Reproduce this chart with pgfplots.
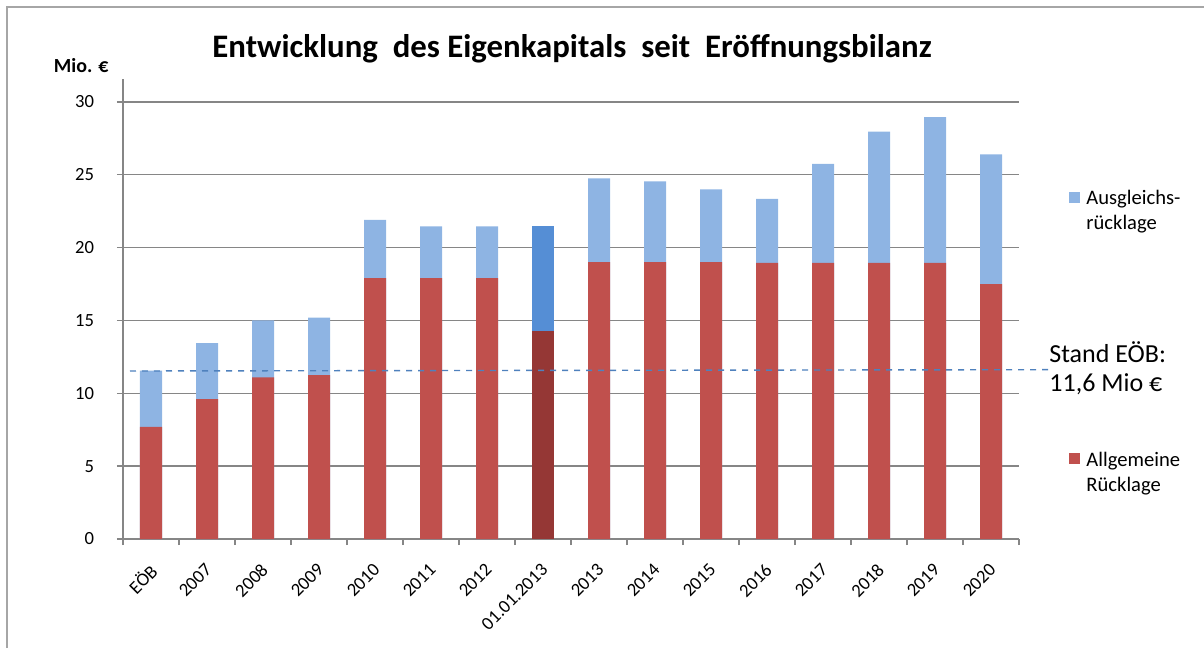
\documentclass[border=0pt]{standalone}
\usepackage{fontspec}
\setmainfont{Carlito}
\usepackage{pgfplots}
\pgfplotsset{compat=1.18}
\definecolor{ausgl}{HTML}{8EB4E3}
\definecolor{allg}{HTML}{C0504D}
\definecolor{ausglDark}{HTML}{558ED5}
\definecolor{allgDark}{HTML}{953735}
\definecolor{eobline}{HTML}{4F81BD}
\definecolor{axgray}{HTML}{868686}
\begin{document}
\begin{tikzpicture}
\useasboundingbox (0pt,0pt) rectangle (602pt,324pt);
\draw[color=black!35, line width=0.7pt] (3.5pt,0pt) -- (3.5pt,320.5pt) -- (602pt,320.5pt);
\begin{axis}[at={(61.5pt,54.5pt)}, anchor=south west, scale only axis,
 width=448pt, height=230pt,
 xmin=-0.5, xmax=15.5, ymin=0, ymax=31.57,
 ybar, bar width=11pt,
 xtick={0,...,15},
 xticklabels={EÖB,2007,2008,2009,2010,2011,2012,01.01.2013,2013,2014,2015,2016,2017,2018,2019,2020},
 minor xtick={-0.5,0.5,...,15.5},
 ytick={0,5,...,30},
 axis x line*=bottom, axis y line*=left,
 axis line style={draw=axgray, line width=0.7pt, -},
 ymajorgrids, grid style={draw=axgray, line width=0.7pt},
 tick align=outside, major tick length=3pt, minor tick length=3pt,
 major x tick style={draw=none},
 minor x tick style={draw=axgray, line width=0.7pt},
 ytick style={draw=axgray, line width=0.7pt},
 tick label style={font=\fontsize{9.3}{11}\selectfont},
 /pgf/number format/assume math mode=true,
 y tick label style={xshift=-8pt},
 x tick label style={rotate=45, anchor=north east, inner sep=1pt, xshift=-6pt, yshift=-4pt},
 clip=false]
% Ausgleichsruecklage (Gesamthoehe = Eigenkapital)
\addplot[fill=ausgl, draw=none, bar shift=0pt] coordinates {
 (0,11.55) (1,13.45) (2,15.0) (3,15.2) (4,21.9) (5,21.45) (6,21.45)
 (8,24.75) (9,24.55) (10,24.0) (11,23.35) (12,25.75) (13,27.95) (14,28.95) (15,26.4)};
% Allgemeine Ruecklage
\addplot[fill=allg, draw=none, bar shift=0pt] coordinates {
 (0,7.7) (1,9.6) (2,11.1) (3,11.25) (4,17.9) (5,17.9) (6,17.9)
 (8,19.0) (9,19.0) (10,19.0) (11,18.95) (12,18.95) (13,18.95) (14,18.95) (15,17.5)};
% 01.01.2013
\addplot[fill=ausglDark, draw=none, bar shift=0pt] coordinates {(7,21.45)};
\addplot[fill=allgDark, draw=none, bar shift=0pt] coordinates {(7,14.3)};
% Stand EOeB
\addplot[sharp plot, dashed, color=eobline, line width=0.7pt] coordinates {(-0.375,11.53) (16.02,11.62)};
\end{axis}
\node[font=\bfseries\fontsize{16.4}{19}\selectfont, anchor=base] at (286pt,295pt) {Entwicklung\ \ des Eigenkapitals\ \ seit\ \ Eröffnungsbilanz};
\node[font=\bfseries\fontsize{10}{12}\selectfont, anchor=base east, inner sep=0pt] at (54.5pt,287.5pt) {Mio. €};
\fill[ausgl] (534.5pt,222.5pt) rectangle (540pt,228pt);
\node[font=\fontsize{10.3}{12.5}\selectfont, anchor=base west, inner sep=0pt] at (543pt,221.5pt) {Ausgleichs-};
\node[font=\fontsize{10.3}{12.5}\selectfont, anchor=base west, inner sep=0pt] at (543pt,209pt) {rücklage};
\fill[allg] (534.5pt,92pt) rectangle (540pt,97.5pt);
\node[font=\fontsize{10.3}{12.5}\selectfont, anchor=base west, inner sep=0pt] at (543pt,90.5pt) {Allgemeine};
\node[font=\fontsize{10.3}{12.5}\selectfont, anchor=base west, inner sep=0pt] at (543pt,78pt) {Rücklage};
\node[font=\fontsize{13}{15}\selectfont, anchor=base west, inner sep=0pt] at (524.5pt,142.5pt) {Stand EÖB:};
\node[font=\fontsize{13}{15}\selectfont, anchor=base west, inner sep=0pt] at (524.5pt,128pt) {11,6 Mio €};
\end{tikzpicture}
\end{document}
